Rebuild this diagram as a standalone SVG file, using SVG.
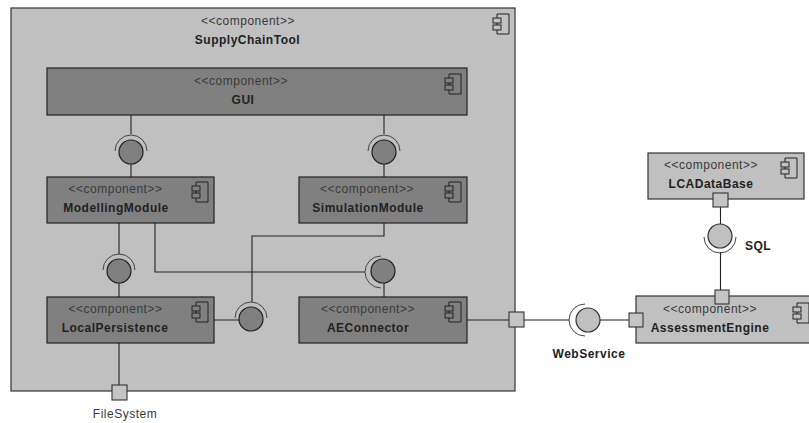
<svg xmlns="http://www.w3.org/2000/svg" width="809" height="423" viewBox="0 0 809 423">
<style>
text{font-family:"Liberation Sans",Arial,sans-serif;font-size:12px;letter-spacing:.5px;fill:#3a3a3a;text-anchor:middle}
.b{font-weight:bold;fill:#222}
.o{fill:#c0c0c0;stroke:#333;stroke-width:1.2}
.i{fill:#808080;stroke:#222;stroke-width:1.2}
.l{fill:none;stroke:#222;stroke-width:1.1}
.a{fill:none;stroke:#444;stroke-width:1}
.ic{fill:none;stroke:#222;stroke-width:1}
.p{fill:#c4c4c4;stroke:#333;stroke-width:1.1}
</style>
<defs>
<g id="icon"><path class="ic" d="M4 4V0H16V20H4V16M4 9V11"/><rect class="ic" x="0" y="4" width="8" height="5"/><rect class="ic" x="0" y="11" width="8" height="5"/></g>
</defs>
<rect width="809" height="423" fill="#fff"/>
<g id="SupplyChainTool"><rect class="o" x="11" y="8" width="504" height="383"/><use href="#icon" x="493" y="14"/><text x="248" y="25">&lt;&lt;component&gt;&gt;</text><text class="b" x="247.500" y="44">SupplyChainTool</text></g>
<g id="GUI"><rect class="i" x="47" y="68" width="420" height="47"/><use href="#icon" x="445" y="74"/><text x="241" y="85">&lt;&lt;component&gt;&gt;</text><text class="b" x="243" y="104">GUI</text></g>
<g id="ModellingModule"><rect class="i" x="47" y="177" width="167" height="46"/><use href="#icon" x="192" y="182"/><text x="115.500" y="193">&lt;&lt;component&gt;&gt;</text><text class="b" x="116" y="212">ModellingModule</text></g>
<g id="SimulationModule"><rect class="i" x="299" y="177" width="168" height="46"/><use href="#icon" x="445" y="182"/><text x="367" y="193">&lt;&lt;component&gt;&gt;</text><text class="b" x="368" y="212">SimulationModule</text></g>
<g id="LocalPersistence"><rect class="i" x="47" y="297" width="167" height="46"/><use href="#icon" x="192" y="302"/><text x="115.500" y="313">&lt;&lt;component&gt;&gt;</text><text class="b" x="115" y="332">LocalPersistence</text></g>
<g id="AEConnector"><rect class="i" x="299" y="297" width="168" height="46"/><use href="#icon" x="445" y="302"/><text x="368" y="313">&lt;&lt;component&gt;&gt;</text><text class="b" x="368" y="332">AEConnector</text></g>
<g id="LCADataBase"><rect class="o" x="648" y="153" width="156" height="46"/><use href="#icon" x="781" y="158"/><text x="711" y="169">&lt;&lt;component&gt;&gt;</text><text class="b" x="711" y="188">LCADataBase</text></g>
<g id="AssessmentEngine"><rect class="o" x="636" y="296" width="180" height="47"/><use href="#icon" x="793" y="303"/><text x="710" y="313">&lt;&lt;component&gt;&gt;</text><text class="b" x="710" y="332">AssessmentEngine</text></g>
<g id="connectors">
<path class="l" d="M131 115V134M131 164V177M384 115V134M384 164V177M119 223V254M119 283V297"/>
<path class="l" d="M155 223V272H365M384 283V297M214 320H239M252 302V236H384V223"/>
<path class="l" d="M467 320H509M524 320H569M600 320H629M720.500 207V224M720.500 252V290"/>
<path class="l" d="M119 343V385"/>
<g id="GUI-Modelling"><circle class="i" cx="131" cy="152" r="12"/><path class="a" d="M115 151A16 16 0 0 1 147 151"/></g>
<g id="GUI-Simulation"><circle class="i" cx="384" cy="152" r="12"/><path class="a" d="M368 151A16 16 0 0 1 400 151"/></g>
<g id="Modelling-Local"><circle class="i" cx="119" cy="271" r="12"/><path class="a" d="M103 270A16 16 0 0 1 135 270"/></g>
<g id="Local-Sim"><circle class="i" cx="251" cy="319" r="12"/><path class="a" d="M235 318A16 16 0 0 1 267 318"/></g>
<g id="Modelling-AE"><circle class="i" cx="383" cy="271" r="12"/><path class="a" d="M381 256A16 16 0 0 0 381 288"/></g>
<g id="SQL-ball"><circle class="o" cx="720" cy="236" r="12"/><path class="a" d="M704 237A16 16 0 0 0 736 237"/></g>
<g id="WS-ball"><circle class="o" cx="588" cy="320" r="12"/><path class="a" d="M585 304A16 16 0 0 0 585 336"/></g>
</g>
<g id="FileSystem"><rect class="p" x="112" y="385" width="15" height="15"/><text x="125" y="418">FileSystem</text></g>
<g id="WebServicePort"><rect class="p" x="509" y="312" width="15" height="15"/></g>
<g id="EnginePortLeft"><rect class="p" x="629" y="313" width="14" height="14"/></g>
<g id="EnginePortTop"><rect class="p" x="715" y="290" width="14" height="14"/></g>
<g id="DbPort"><rect class="p" x="713" y="193" width="15" height="14"/></g>
<text class="b" x="589" y="358">WebService</text>
<text class="b" x="758" y="250">SQL</text>
</svg>
